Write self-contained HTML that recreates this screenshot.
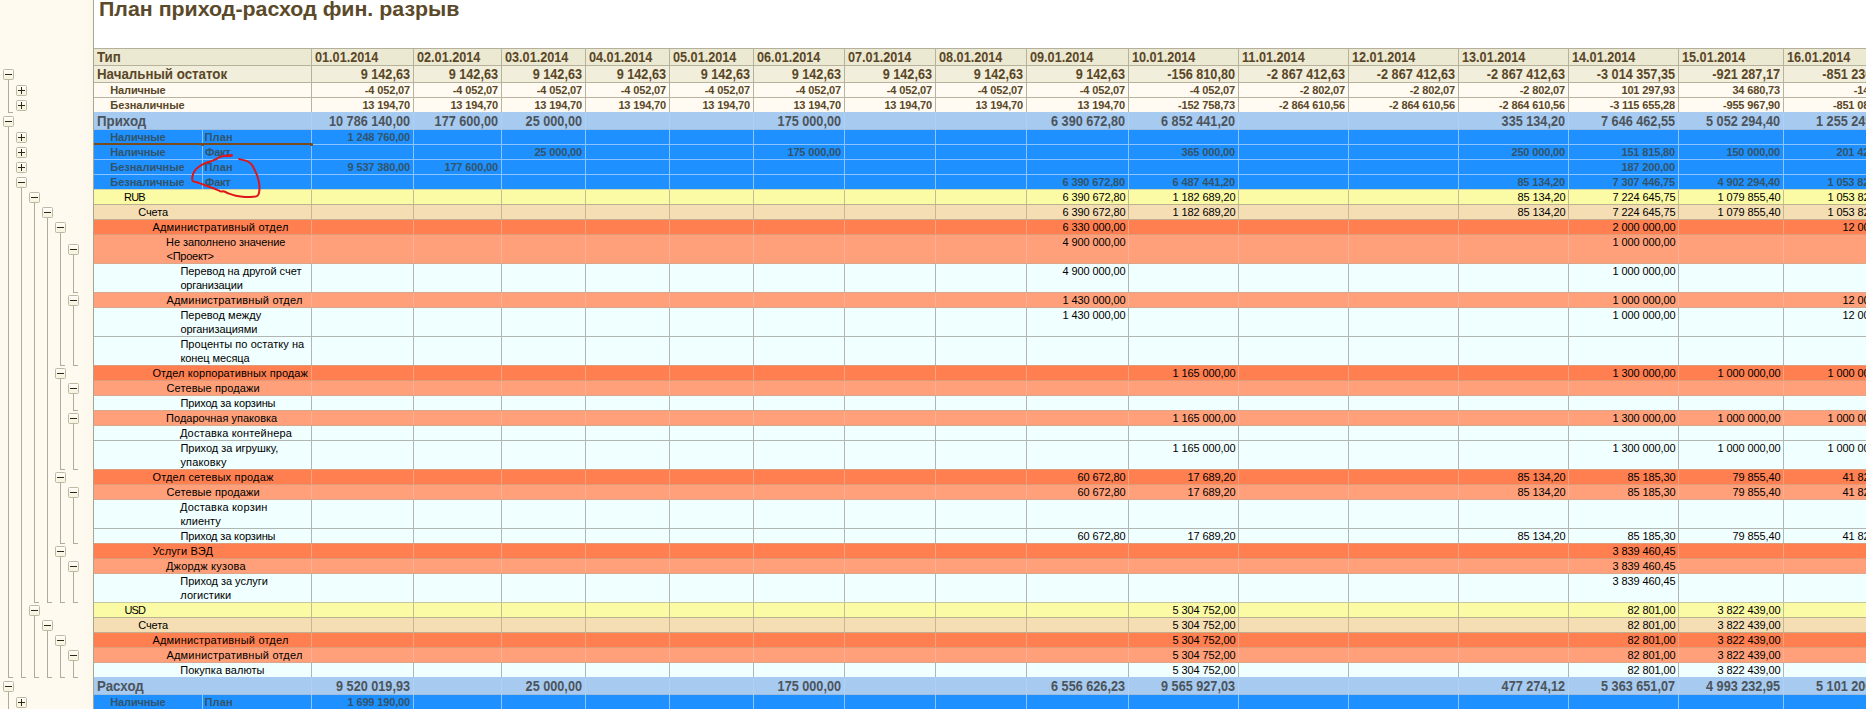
<!DOCTYPE html>
<html lang="ru"><head><meta charset="utf-8"><title>План приход-расход фин. разрыв</title>
<style>
html,body{margin:0;padding:0;}
body{width:1866px;height:709px;overflow:hidden;background:#fff;position:relative;
 font-family:"Liberation Sans",Arial,sans-serif;}
#outl{position:absolute;left:0;top:0;width:93px;height:709px;
 background:linear-gradient(90deg,#FFFAF0 0px,#FFFAF0 84px,#FBF7EA 93px);}
#vl{position:absolute;left:93px;top:0;width:1px;height:709px;background:#A6A596;}
#title{position:absolute;left:98.5px;top:-4px;font-weight:bold;font-size:20px;line-height:26px;transform:scaleX(1.068);transform-origin:0 50%;color:#5B4A2A;white-space:nowrap;}
#topl{position:absolute;left:94px;top:48px;width:1772px;height:1px;background:#B4B09C;}
.r{position:absolute;left:94px;width:1772px;overflow:hidden;}
.r i{position:absolute;top:0;bottom:0;width:1px;background:#B4B09C;}
.r u{position:absolute;left:0;right:0;bottom:0;height:1px;background:#B4B09C;}
.bl i,.bl u{background:#8CC4FF;}
.k-head i{background:#B6B29C;}.k-head u{background:#B6B29C;}
.k-total i{background:#B6B29C;}.k-total u{background:#B6B29C;}
.k-sub i{background:#B8B4A0;}.k-sub u{background:#B8B4A0;}
.k-grp i{background:#9FBEDF;}.k-grp u{background:#9FBEDF;}
.k-blue i{background:#8CC4FF;}.k-blue u{background:#8CC4FF;}
.k-yel i{background:#C2BE98;}.k-yel u{background:#B8B490;}
.k-wheat i{background:#C6B696;}.k-wheat u{background:#C2AE90;}
.k-coral i{background:#F2A484;}.k-coral u{background:#DE9C7A;}
.k-salm i{background:#F6B296;}.k-salm u{background:#DCA68A;}
.k-leaf i{background:#B2B6B0;}.k-leaf u{background:#B2B6B0;}

.c{position:absolute;top:0;white-space:nowrap;}
.v{text-align:right;}
.b12{font-weight:bold;font-size:14px;line-height:16px;color:#5A4727;}
.b12 .v{transform:scaleX(0.905);transform-origin:100% 50%;}
.b12.hd .d{transform:scaleX(0.905);transform-origin:0 50%;}
.b12 .l{transform:scaleX(0.95);transform-origin:0 50%;letter-spacing:0 !important;}
.b12.hd .l{letter-spacing:0;}
.b12.g{color:#4C545C;}
.b11{font-weight:bold;font-size:11px;line-height:14px;color:#5A4727;}
.b11 .v{letter-spacing:-0.15px;}
.b11.bl{color:#32546A;}
.n{font-size:11px;line-height:14px;color:#000;}
.n .c{line-height:14px;}
.n .v{letter-spacing:-0.12px;margin-left:0.4px;}
.bx{position:absolute;width:9px;height:9px;border:1px solid #BDB9A5;border-radius:1.5px;
 background:linear-gradient(#FFFEF8,#F6F2DE);}
.bx b{position:absolute;left:1px;top:4px;width:7px;height:1px;background:#2E2814;}
.bx s{position:absolute;left:4px;top:1px;width:1px;height:7px;background:#2E2814;}
.ln{position:absolute;background:#B0AC9A;}
</style></head>
<body>
<div id="outl"></div><div id="vl"></div>
<div id="title">План приход-расход фин. разрыв</div>
<div id="topl"></div>
<div class="r b12 hd k-head" style="top:49px;height:17px;background:#ECE9D2"><i style="left:217px"></i><i style="left:319px"></i><i style="left:407px"></i><i style="left:491px"></i><i style="left:575px"></i><i style="left:659px"></i><i style="left:750px"></i><i style="left:841px"></i><i style="left:932px"></i><i style="left:1034px"></i><i style="left:1144px"></i><i style="left:1254px"></i><i style="left:1364px"></i><i style="left:1474px"></i><i style="left:1584px"></i><i style="left:1689px"></i><i style="left:1799px"></i><u></u><div class="c l" style="left:3.30px;letter-spacing:-0.50px">Тип</div><div class="c d" style="left:221px">01.01.2014</div><div class="c d" style="left:323px">02.01.2014</div><div class="c d" style="left:411px">03.01.2014</div><div class="c d" style="left:495px">04.01.2014</div><div class="c d" style="left:579px">05.01.2014</div><div class="c d" style="left:663px">06.01.2014</div><div class="c d" style="left:754px">07.01.2014</div><div class="c d" style="left:845px">08.01.2014</div><div class="c d" style="left:936px">09.01.2014</div><div class="c d" style="left:1038px">10.01.2014</div><div class="c d" style="left:1148px">11.01.2014</div><div class="c d" style="left:1258px">12.01.2014</div><div class="c d" style="left:1368px">13.01.2014</div><div class="c d" style="left:1478px">14.01.2014</div><div class="c d" style="left:1588px">15.01.2014</div><div class="c d" style="left:1693px">16.01.2014</div></div>
<div class="r b12 k-total" style="top:66px;height:17px;background:#F1EEDB"><i style="left:217px"></i><i style="left:319px"></i><i style="left:407px"></i><i style="left:491px"></i><i style="left:575px"></i><i style="left:659px"></i><i style="left:750px"></i><i style="left:841px"></i><i style="left:932px"></i><i style="left:1034px"></i><i style="left:1144px"></i><i style="left:1254px"></i><i style="left:1364px"></i><i style="left:1474px"></i><i style="left:1584px"></i><i style="left:1689px"></i><i style="left:1799px"></i><u></u><div class="c l" style="left:2.60px;letter-spacing:-0.43px">Начальный остаток</div><div class="c v" style="left:218px;width:98px">9 142,63</div><div class="c v" style="left:320px;width:84px">9 142,63</div><div class="c v" style="left:408px;width:80px">9 142,63</div><div class="c v" style="left:492px;width:80px">9 142,63</div><div class="c v" style="left:576px;width:80px">9 142,63</div><div class="c v" style="left:660px;width:87px">9 142,63</div><div class="c v" style="left:751px;width:87px">9 142,63</div><div class="c v" style="left:842px;width:87px">9 142,63</div><div class="c v" style="left:933px;width:98px">9 142,63</div><div class="c v" style="left:1035px;width:106px">-156 810,80</div><div class="c v" style="left:1145px;width:106px">-2 867 412,63</div><div class="c v" style="left:1255px;width:106px">-2 867 412,63</div><div class="c v" style="left:1365px;width:106px">-2 867 412,63</div><div class="c v" style="left:1475px;width:106px">-3 014 357,35</div><div class="c v" style="left:1585px;width:101px">-921 287,17</div><div class="c v" style="left:1690px;width:106px">-851 236,07</div></div>
<div class="r b11 k-sub" style="top:83px;height:15px;background:#FFFBF2"><i style="left:217px"></i><i style="left:319px"></i><i style="left:407px"></i><i style="left:491px"></i><i style="left:575px"></i><i style="left:659px"></i><i style="left:750px"></i><i style="left:841px"></i><i style="left:932px"></i><i style="left:1034px"></i><i style="left:1144px"></i><i style="left:1254px"></i><i style="left:1364px"></i><i style="left:1474px"></i><i style="left:1584px"></i><i style="left:1689px"></i><i style="left:1799px"></i><u></u><div class="c l" style="left:16.30px;letter-spacing:-0.14px">Наличные</div><div class="c v" style="left:218px;width:98px">-4 052,07</div><div class="c v" style="left:320px;width:84px">-4 052,07</div><div class="c v" style="left:408px;width:80px">-4 052,07</div><div class="c v" style="left:492px;width:80px">-4 052,07</div><div class="c v" style="left:576px;width:80px">-4 052,07</div><div class="c v" style="left:660px;width:87px">-4 052,07</div><div class="c v" style="left:751px;width:87px">-4 052,07</div><div class="c v" style="left:842px;width:87px">-4 052,07</div><div class="c v" style="left:933px;width:98px">-4 052,07</div><div class="c v" style="left:1035px;width:106px">-4 052,07</div><div class="c v" style="left:1145px;width:106px">-2 802,07</div><div class="c v" style="left:1255px;width:106px">-2 802,07</div><div class="c v" style="left:1365px;width:106px">-2 802,07</div><div class="c v" style="left:1475px;width:106px">101 297,93</div><div class="c v" style="left:1585px;width:101px">34 680,73</div><div class="c v" style="left:1690px;width:106px">-147,37</div></div>
<div class="r b11 k-sub" style="top:98px;height:15px;background:#FFFBF2"><i style="left:217px"></i><i style="left:319px"></i><i style="left:407px"></i><i style="left:491px"></i><i style="left:575px"></i><i style="left:659px"></i><i style="left:750px"></i><i style="left:841px"></i><i style="left:932px"></i><i style="left:1034px"></i><i style="left:1144px"></i><i style="left:1254px"></i><i style="left:1364px"></i><i style="left:1474px"></i><i style="left:1584px"></i><i style="left:1689px"></i><i style="left:1799px"></i><u></u><div class="c l" style="left:16.30px;letter-spacing:-0.02px">Безналичные</div><div class="c v" style="left:218px;width:98px">13 194,70</div><div class="c v" style="left:320px;width:84px">13 194,70</div><div class="c v" style="left:408px;width:80px">13 194,70</div><div class="c v" style="left:492px;width:80px">13 194,70</div><div class="c v" style="left:576px;width:80px">13 194,70</div><div class="c v" style="left:660px;width:87px">13 194,70</div><div class="c v" style="left:751px;width:87px">13 194,70</div><div class="c v" style="left:842px;width:87px">13 194,70</div><div class="c v" style="left:933px;width:98px">13 194,70</div><div class="c v" style="left:1035px;width:106px">-152 758,73</div><div class="c v" style="left:1145px;width:106px">-2 864 610,56</div><div class="c v" style="left:1255px;width:106px">-2 864 610,56</div><div class="c v" style="left:1365px;width:106px">-2 864 610,56</div><div class="c v" style="left:1475px;width:106px">-3 115 655,28</div><div class="c v" style="left:1585px;width:101px">-955 967,90</div><div class="c v" style="left:1690px;width:106px">-851 088,70</div></div>
<div class="r b12 g" style="top:113px;height:17px;background:#A6CAF0;border-top:1px solid #A6CAF0;margin-top:-1px"><u style="background:#9FBEDF"></u><i style="left:217px;background:#B1D0F2"></i><i style="left:319px;background:#B1D0F2"></i><i style="left:407px;background:#B1D0F2"></i><i style="left:491px;background:#B1D0F2"></i><i style="left:575px;background:#B1D0F2"></i><i style="left:659px;background:#B1D0F2"></i><i style="left:750px;background:#B1D0F2"></i><i style="left:841px;background:#B1D0F2"></i><i style="left:932px;background:#B1D0F2"></i><i style="left:1034px;background:#B1D0F2"></i><i style="left:1144px;background:#B1D0F2"></i><i style="left:1254px;background:#B1D0F2"></i><i style="left:1364px;background:#B1D0F2"></i><i style="left:1474px;background:#B1D0F2"></i><i style="left:1584px;background:#B1D0F2"></i><i style="left:1689px;background:#B1D0F2"></i><i style="left:1799px;background:#B1D0F2"></i><div class="c l" style="left:2.60px;letter-spacing:-0.60px">Приход</div><div class="c v" style="left:218px;width:98px">10 786 140,00</div><div class="c v" style="left:320px;width:84px">177 600,00</div><div class="c v" style="left:408px;width:80px">25 000,00</div><div class="c v" style="left:660px;width:87px">175 000,00</div><div class="c v" style="left:933px;width:98px">6 390 672,80</div><div class="c v" style="left:1035px;width:106px">6 852 441,20</div><div class="c v" style="left:1365px;width:106px">335 134,20</div><div class="c v" style="left:1475px;width:106px">7 646 462,55</div><div class="c v" style="left:1585px;width:101px">5 052 294,40</div><div class="c v" style="left:1690px;width:106px">1 255 249,60</div></div>
<div class="r b11 bl k-blue" style="top:130px;height:15px;background:#1E90FF"><i style="left:217px"></i><i style="left:319px"></i><i style="left:407px"></i><i style="left:491px"></i><i style="left:575px"></i><i style="left:659px"></i><i style="left:750px"></i><i style="left:841px"></i><i style="left:932px"></i><i style="left:1034px"></i><i style="left:1144px"></i><i style="left:1254px"></i><i style="left:1364px"></i><i style="left:1474px"></i><i style="left:1584px"></i><i style="left:1689px"></i><i style="left:1799px"></i><i style="left:108px"></i><u></u><div class="c l" style="left:16.30px;letter-spacing:-0.14px">Наличные</div><div class="c l" style="left:110.50px;letter-spacing:0.20px">План</div><div class="c v" style="left:218px;width:98px">1 248 760,00</div></div>
<div class="r b11 bl k-blue" style="top:145px;height:15px;background:#1E90FF"><i style="left:217px"></i><i style="left:319px"></i><i style="left:407px"></i><i style="left:491px"></i><i style="left:575px"></i><i style="left:659px"></i><i style="left:750px"></i><i style="left:841px"></i><i style="left:932px"></i><i style="left:1034px"></i><i style="left:1144px"></i><i style="left:1254px"></i><i style="left:1364px"></i><i style="left:1474px"></i><i style="left:1584px"></i><i style="left:1689px"></i><i style="left:1799px"></i><i style="left:108px"></i><u></u><div class="c l" style="left:16.30px;letter-spacing:-0.14px">Наличные</div><div class="c l" style="left:111.10px;letter-spacing:-0.30px">Факт</div><div class="c v" style="left:408px;width:80px">25 000,00</div><div class="c v" style="left:660px;width:87px">175 000,00</div><div class="c v" style="left:1035px;width:106px">365 000,00</div><div class="c v" style="left:1365px;width:106px">250 000,00</div><div class="c v" style="left:1475px;width:106px">151 815,80</div><div class="c v" style="left:1585px;width:101px">150 000,00</div><div class="c v" style="left:1690px;width:106px">201 424,20</div></div>
<div class="r b11 bl k-blue" style="top:160px;height:15px;background:#1E90FF"><i style="left:217px"></i><i style="left:319px"></i><i style="left:407px"></i><i style="left:491px"></i><i style="left:575px"></i><i style="left:659px"></i><i style="left:750px"></i><i style="left:841px"></i><i style="left:932px"></i><i style="left:1034px"></i><i style="left:1144px"></i><i style="left:1254px"></i><i style="left:1364px"></i><i style="left:1474px"></i><i style="left:1584px"></i><i style="left:1689px"></i><i style="left:1799px"></i><i style="left:108px"></i><u></u><div class="c l" style="left:16.30px;letter-spacing:-0.02px">Безналичные</div><div class="c l" style="left:110.50px;letter-spacing:0.20px">План</div><div class="c v" style="left:218px;width:98px">9 537 380,00</div><div class="c v" style="left:320px;width:84px">177 600,00</div><div class="c v" style="left:1475px;width:106px">187 200,00</div></div>
<div class="r b11 bl k-blue" style="top:175px;height:15px;background:#1E90FF"><i style="left:217px"></i><i style="left:319px"></i><i style="left:407px"></i><i style="left:491px"></i><i style="left:575px"></i><i style="left:659px"></i><i style="left:750px"></i><i style="left:841px"></i><i style="left:932px"></i><i style="left:1034px"></i><i style="left:1144px"></i><i style="left:1254px"></i><i style="left:1364px"></i><i style="left:1474px"></i><i style="left:1584px"></i><i style="left:1689px"></i><i style="left:1799px"></i><i style="left:108px"></i><u style="background:#D2D6AC"></u><div class="c l" style="left:16.30px;letter-spacing:-0.02px">Безналичные</div><div class="c l" style="left:111.10px;letter-spacing:-0.30px">Факт</div><div class="c v" style="left:933px;width:98px">6 390 672,80</div><div class="c v" style="left:1035px;width:106px">6 487 441,20</div><div class="c v" style="left:1365px;width:106px">85 134,20</div><div class="c v" style="left:1475px;width:106px">7 307 446,75</div><div class="c v" style="left:1585px;width:101px">4 902 294,40</div><div class="c v" style="left:1690px;width:106px">1 053 825,40</div></div>
<div class="r n k-yel" style="top:190px;height:15px;background:#FCFBA5"><i style="left:217px"></i><i style="left:319px"></i><i style="left:407px"></i><i style="left:491px"></i><i style="left:575px"></i><i style="left:659px"></i><i style="left:750px"></i><i style="left:841px"></i><i style="left:932px"></i><i style="left:1034px"></i><i style="left:1144px"></i><i style="left:1254px"></i><i style="left:1364px"></i><i style="left:1474px"></i><i style="left:1584px"></i><i style="left:1689px"></i><i style="left:1799px"></i><u></u><div class="c l" style="left:30px;letter-spacing:-0.80px">RUB</div><div class="c v" style="left:933px;width:98px">6 390 672,80</div><div class="c v" style="left:1035px;width:106px">1 182 689,20</div><div class="c v" style="left:1365px;width:106px">85 134,20</div><div class="c v" style="left:1475px;width:106px">7 224 645,75</div><div class="c v" style="left:1585px;width:101px">1 079 855,40</div><div class="c v" style="left:1690px;width:106px">1 053 825,40</div></div>
<div class="r n k-wheat" style="top:205px;height:15px;background:#F5DEB3"><i style="left:217px"></i><i style="left:319px"></i><i style="left:407px"></i><i style="left:491px"></i><i style="left:575px"></i><i style="left:659px"></i><i style="left:750px"></i><i style="left:841px"></i><i style="left:932px"></i><i style="left:1034px"></i><i style="left:1144px"></i><i style="left:1254px"></i><i style="left:1364px"></i><i style="left:1474px"></i><i style="left:1584px"></i><i style="left:1689px"></i><i style="left:1799px"></i><u></u><div class="c l" style="left:44.30px;letter-spacing:-0.15px">Счета</div><div class="c v" style="left:933px;width:98px">6 390 672,80</div><div class="c v" style="left:1035px;width:106px">1 182 689,20</div><div class="c v" style="left:1365px;width:106px">85 134,20</div><div class="c v" style="left:1475px;width:106px">7 224 645,75</div><div class="c v" style="left:1585px;width:101px">1 079 855,40</div><div class="c v" style="left:1690px;width:106px">1 053 825,40</div></div>
<div class="r n k-coral" style="top:220px;height:15px;background:#FF7F50"><i style="left:217px"></i><i style="left:319px"></i><i style="left:407px"></i><i style="left:491px"></i><i style="left:575px"></i><i style="left:659px"></i><i style="left:750px"></i><i style="left:841px"></i><i style="left:932px"></i><i style="left:1034px"></i><i style="left:1144px"></i><i style="left:1254px"></i><i style="left:1364px"></i><i style="left:1474px"></i><i style="left:1584px"></i><i style="left:1689px"></i><i style="left:1799px"></i><u></u><div class="c l" style="left:58.40px;letter-spacing:0.21px">Административный отдел</div><div class="c v" style="left:933px;width:98px">6 330 000,00</div><div class="c v" style="left:1475px;width:106px">2 000 000,00</div><div class="c v" style="left:1690px;width:106px">12 000,00</div></div>
<div class="r n k-salm" style="top:235px;height:29px;background:#FFA07A"><i style="left:217px"></i><i style="left:319px"></i><i style="left:407px"></i><i style="left:491px"></i><i style="left:575px"></i><i style="left:659px"></i><i style="left:750px"></i><i style="left:841px"></i><i style="left:932px"></i><i style="left:1034px"></i><i style="left:1144px"></i><i style="left:1254px"></i><i style="left:1364px"></i><i style="left:1474px"></i><i style="left:1584px"></i><i style="left:1689px"></i><i style="left:1799px"></i><u></u><div class="c l" style="left:72.10px;letter-spacing:-0.09px">Не заполнено значение</div><div class="c l" style="left:72.50px;top:14px;letter-spacing:-0.24px">&lt;Проект&gt;</div><div class="c v" style="left:933px;width:98px">4 900 000,00</div><div class="c v" style="left:1475px;width:106px">1 000 000,00</div></div>
<div class="r n k-leaf" style="top:264px;height:29px;background:#F0FFFF"><i style="left:217px"></i><i style="left:319px"></i><i style="left:407px"></i><i style="left:491px"></i><i style="left:575px"></i><i style="left:659px"></i><i style="left:750px"></i><i style="left:841px"></i><i style="left:932px"></i><i style="left:1034px"></i><i style="left:1144px"></i><i style="left:1254px"></i><i style="left:1364px"></i><i style="left:1474px"></i><i style="left:1584px"></i><i style="left:1689px"></i><i style="left:1799px"></i><u style="background:#DCA68A"></u><div class="c l" style="left:86.40px;letter-spacing:-0.02px">Перевод на другой счет</div><div class="c l" style="left:86.40px;top:14px;letter-spacing:-0.17px">организации</div><div class="c v" style="left:933px;width:98px">4 900 000,00</div><div class="c v" style="left:1475px;width:106px">1 000 000,00</div></div>
<div class="r n k-salm" style="top:293px;height:15px;background:#FFA07A"><i style="left:217px"></i><i style="left:319px"></i><i style="left:407px"></i><i style="left:491px"></i><i style="left:575px"></i><i style="left:659px"></i><i style="left:750px"></i><i style="left:841px"></i><i style="left:932px"></i><i style="left:1034px"></i><i style="left:1144px"></i><i style="left:1254px"></i><i style="left:1364px"></i><i style="left:1474px"></i><i style="left:1584px"></i><i style="left:1689px"></i><i style="left:1799px"></i><u></u><div class="c l" style="left:72.40px;letter-spacing:0.21px">Административный отдел</div><div class="c v" style="left:933px;width:98px">1 430 000,00</div><div class="c v" style="left:1475px;width:106px">1 000 000,00</div><div class="c v" style="left:1690px;width:106px">12 000,00</div></div>
<div class="r n k-leaf" style="top:308px;height:29px;background:#F0FFFF"><i style="left:217px"></i><i style="left:319px"></i><i style="left:407px"></i><i style="left:491px"></i><i style="left:575px"></i><i style="left:659px"></i><i style="left:750px"></i><i style="left:841px"></i><i style="left:932px"></i><i style="left:1034px"></i><i style="left:1144px"></i><i style="left:1254px"></i><i style="left:1364px"></i><i style="left:1474px"></i><i style="left:1584px"></i><i style="left:1689px"></i><i style="left:1799px"></i><u></u><div class="c l" style="left:86.40px;letter-spacing:0.05px">Перевод между</div><div class="c l" style="left:86.40px;top:14px;letter-spacing:-0.05px">организациями</div><div class="c v" style="left:933px;width:98px">1 430 000,00</div><div class="c v" style="left:1475px;width:106px">1 000 000,00</div><div class="c v" style="left:1690px;width:106px">12 000,00</div></div>
<div class="r n k-leaf" style="top:337px;height:29px;background:#F0FFFF"><i style="left:217px"></i><i style="left:319px"></i><i style="left:407px"></i><i style="left:491px"></i><i style="left:575px"></i><i style="left:659px"></i><i style="left:750px"></i><i style="left:841px"></i><i style="left:932px"></i><i style="left:1034px"></i><i style="left:1144px"></i><i style="left:1254px"></i><i style="left:1364px"></i><i style="left:1474px"></i><i style="left:1584px"></i><i style="left:1689px"></i><i style="left:1799px"></i><u style="background:#DE9C7A"></u><div class="c l" style="left:86.40px;letter-spacing:0.05px">Проценты по остатку на</div><div class="c l" style="left:86.40px;top:14px;letter-spacing:-0.08px">конец месяца</div></div>
<div class="r n k-coral" style="top:366px;height:15px;background:#FF7F50"><i style="left:217px"></i><i style="left:319px"></i><i style="left:407px"></i><i style="left:491px"></i><i style="left:575px"></i><i style="left:659px"></i><i style="left:750px"></i><i style="left:841px"></i><i style="left:932px"></i><i style="left:1034px"></i><i style="left:1144px"></i><i style="left:1254px"></i><i style="left:1364px"></i><i style="left:1474px"></i><i style="left:1584px"></i><i style="left:1689px"></i><i style="left:1799px"></i><u></u><div class="c l" style="left:58.40px;letter-spacing:0.08px">Отдел корпоративных продаж</div><div class="c v" style="left:1035px;width:106px">1 165 000,00</div><div class="c v" style="left:1475px;width:106px">1 300 000,00</div><div class="c v" style="left:1585px;width:101px">1 000 000,00</div><div class="c v" style="left:1690px;width:106px">1 000 000,00</div></div>
<div class="r n k-salm" style="top:381px;height:15px;background:#FFA07A"><i style="left:217px"></i><i style="left:319px"></i><i style="left:407px"></i><i style="left:491px"></i><i style="left:575px"></i><i style="left:659px"></i><i style="left:750px"></i><i style="left:841px"></i><i style="left:932px"></i><i style="left:1034px"></i><i style="left:1144px"></i><i style="left:1254px"></i><i style="left:1364px"></i><i style="left:1474px"></i><i style="left:1584px"></i><i style="left:1689px"></i><i style="left:1799px"></i><u></u><div class="c l" style="left:72.50px;letter-spacing:0.10px">Сетевые продажи</div></div>
<div class="r n k-leaf" style="top:396px;height:15px;background:#F0FFFF"><i style="left:217px"></i><i style="left:319px"></i><i style="left:407px"></i><i style="left:491px"></i><i style="left:575px"></i><i style="left:659px"></i><i style="left:750px"></i><i style="left:841px"></i><i style="left:932px"></i><i style="left:1034px"></i><i style="left:1144px"></i><i style="left:1254px"></i><i style="left:1364px"></i><i style="left:1474px"></i><i style="left:1584px"></i><i style="left:1689px"></i><i style="left:1799px"></i><u style="background:#DCA68A"></u><div class="c l" style="left:86.40px;letter-spacing:-0.14px">Приход за корзины</div></div>
<div class="r n k-salm" style="top:411px;height:15px;background:#FFA07A"><i style="left:217px"></i><i style="left:319px"></i><i style="left:407px"></i><i style="left:491px"></i><i style="left:575px"></i><i style="left:659px"></i><i style="left:750px"></i><i style="left:841px"></i><i style="left:932px"></i><i style="left:1034px"></i><i style="left:1144px"></i><i style="left:1254px"></i><i style="left:1364px"></i><i style="left:1474px"></i><i style="left:1584px"></i><i style="left:1689px"></i><i style="left:1799px"></i><u></u><div class="c l" style="left:72.10px;letter-spacing:0.01px">Подарочная упаковка</div><div class="c v" style="left:1035px;width:106px">1 165 000,00</div><div class="c v" style="left:1475px;width:106px">1 300 000,00</div><div class="c v" style="left:1585px;width:101px">1 000 000,00</div><div class="c v" style="left:1690px;width:106px">1 000 000,00</div></div>
<div class="r n k-leaf" style="top:426px;height:15px;background:#F0FFFF"><i style="left:217px"></i><i style="left:319px"></i><i style="left:407px"></i><i style="left:491px"></i><i style="left:575px"></i><i style="left:659px"></i><i style="left:750px"></i><i style="left:841px"></i><i style="left:932px"></i><i style="left:1034px"></i><i style="left:1144px"></i><i style="left:1254px"></i><i style="left:1364px"></i><i style="left:1474px"></i><i style="left:1584px"></i><i style="left:1689px"></i><i style="left:1799px"></i><u></u><div class="c l" style="left:85.90px;letter-spacing:0.16px">Доставка контейнера</div></div>
<div class="r n k-leaf" style="top:441px;height:29px;background:#F0FFFF"><i style="left:217px"></i><i style="left:319px"></i><i style="left:407px"></i><i style="left:491px"></i><i style="left:575px"></i><i style="left:659px"></i><i style="left:750px"></i><i style="left:841px"></i><i style="left:932px"></i><i style="left:1034px"></i><i style="left:1144px"></i><i style="left:1254px"></i><i style="left:1364px"></i><i style="left:1474px"></i><i style="left:1584px"></i><i style="left:1689px"></i><i style="left:1799px"></i><u style="background:#DE9C7A"></u><div class="c l" style="left:86.40px;letter-spacing:-0.01px">Приход за игрушку,</div><div class="c l" style="left:86.40px;top:14px;letter-spacing:0.16px">упаковку</div><div class="c v" style="left:1035px;width:106px">1 165 000,00</div><div class="c v" style="left:1475px;width:106px">1 300 000,00</div><div class="c v" style="left:1585px;width:101px">1 000 000,00</div><div class="c v" style="left:1690px;width:106px">1 000 000,00</div></div>
<div class="r n k-coral" style="top:470px;height:15px;background:#FF7F50"><i style="left:217px"></i><i style="left:319px"></i><i style="left:407px"></i><i style="left:491px"></i><i style="left:575px"></i><i style="left:659px"></i><i style="left:750px"></i><i style="left:841px"></i><i style="left:932px"></i><i style="left:1034px"></i><i style="left:1144px"></i><i style="left:1254px"></i><i style="left:1364px"></i><i style="left:1474px"></i><i style="left:1584px"></i><i style="left:1689px"></i><i style="left:1799px"></i><u></u><div class="c l" style="left:58.40px;letter-spacing:0.19px">Отдел сетевых продаж</div><div class="c v" style="left:933px;width:98px">60 672,80</div><div class="c v" style="left:1035px;width:106px">17 689,20</div><div class="c v" style="left:1365px;width:106px">85 134,20</div><div class="c v" style="left:1475px;width:106px">85 185,30</div><div class="c v" style="left:1585px;width:101px">79 855,40</div><div class="c v" style="left:1690px;width:106px">41 825,40</div></div>
<div class="r n k-salm" style="top:485px;height:15px;background:#FFA07A"><i style="left:217px"></i><i style="left:319px"></i><i style="left:407px"></i><i style="left:491px"></i><i style="left:575px"></i><i style="left:659px"></i><i style="left:750px"></i><i style="left:841px"></i><i style="left:932px"></i><i style="left:1034px"></i><i style="left:1144px"></i><i style="left:1254px"></i><i style="left:1364px"></i><i style="left:1474px"></i><i style="left:1584px"></i><i style="left:1689px"></i><i style="left:1799px"></i><u></u><div class="c l" style="left:72.50px;letter-spacing:0.10px">Сетевые продажи</div><div class="c v" style="left:933px;width:98px">60 672,80</div><div class="c v" style="left:1035px;width:106px">17 689,20</div><div class="c v" style="left:1365px;width:106px">85 134,20</div><div class="c v" style="left:1475px;width:106px">85 185,30</div><div class="c v" style="left:1585px;width:101px">79 855,40</div><div class="c v" style="left:1690px;width:106px">41 825,40</div></div>
<div class="r n k-leaf" style="top:500px;height:29px;background:#F0FFFF"><i style="left:217px"></i><i style="left:319px"></i><i style="left:407px"></i><i style="left:491px"></i><i style="left:575px"></i><i style="left:659px"></i><i style="left:750px"></i><i style="left:841px"></i><i style="left:932px"></i><i style="left:1034px"></i><i style="left:1144px"></i><i style="left:1254px"></i><i style="left:1364px"></i><i style="left:1474px"></i><i style="left:1584px"></i><i style="left:1689px"></i><i style="left:1799px"></i><u></u><div class="c l" style="left:85.90px;letter-spacing:0.20px">Доставка корзин</div><div class="c l" style="left:86.40px;top:14px">клиенту</div></div>
<div class="r n k-leaf" style="top:529px;height:15px;background:#F0FFFF"><i style="left:217px"></i><i style="left:319px"></i><i style="left:407px"></i><i style="left:491px"></i><i style="left:575px"></i><i style="left:659px"></i><i style="left:750px"></i><i style="left:841px"></i><i style="left:932px"></i><i style="left:1034px"></i><i style="left:1144px"></i><i style="left:1254px"></i><i style="left:1364px"></i><i style="left:1474px"></i><i style="left:1584px"></i><i style="left:1689px"></i><i style="left:1799px"></i><u style="background:#DE9C7A"></u><div class="c l" style="left:86.40px;letter-spacing:-0.14px">Приход за корзины</div><div class="c v" style="left:933px;width:98px">60 672,80</div><div class="c v" style="left:1035px;width:106px">17 689,20</div><div class="c v" style="left:1365px;width:106px">85 134,20</div><div class="c v" style="left:1475px;width:106px">85 185,30</div><div class="c v" style="left:1585px;width:101px">79 855,40</div><div class="c v" style="left:1690px;width:106px">41 825,40</div></div>
<div class="r n k-coral" style="top:544px;height:15px;background:#FF7F50"><i style="left:217px"></i><i style="left:319px"></i><i style="left:407px"></i><i style="left:491px"></i><i style="left:575px"></i><i style="left:659px"></i><i style="left:750px"></i><i style="left:841px"></i><i style="left:932px"></i><i style="left:1034px"></i><i style="left:1144px"></i><i style="left:1254px"></i><i style="left:1364px"></i><i style="left:1474px"></i><i style="left:1584px"></i><i style="left:1689px"></i><i style="left:1799px"></i><u></u><div class="c l" style="left:58.70px;letter-spacing:0.12px">Услуги ВЭД</div><div class="c v" style="left:1475px;width:106px">3 839 460,45</div></div>
<div class="r n k-salm" style="top:559px;height:15px;background:#FFA07A"><i style="left:217px"></i><i style="left:319px"></i><i style="left:407px"></i><i style="left:491px"></i><i style="left:575px"></i><i style="left:659px"></i><i style="left:750px"></i><i style="left:841px"></i><i style="left:932px"></i><i style="left:1034px"></i><i style="left:1144px"></i><i style="left:1254px"></i><i style="left:1364px"></i><i style="left:1474px"></i><i style="left:1584px"></i><i style="left:1689px"></i><i style="left:1799px"></i><u></u><div class="c l" style="left:71.90px;letter-spacing:0.23px">Джордж кузова</div><div class="c v" style="left:1475px;width:106px">3 839 460,45</div></div>
<div class="r n k-leaf" style="top:574px;height:29px;background:#F0FFFF"><i style="left:217px"></i><i style="left:319px"></i><i style="left:407px"></i><i style="left:491px"></i><i style="left:575px"></i><i style="left:659px"></i><i style="left:750px"></i><i style="left:841px"></i><i style="left:932px"></i><i style="left:1034px"></i><i style="left:1144px"></i><i style="left:1254px"></i><i style="left:1364px"></i><i style="left:1474px"></i><i style="left:1584px"></i><i style="left:1689px"></i><i style="left:1799px"></i><u style="background:#C6C6A2"></u><div class="c l" style="left:86.30px;letter-spacing:-0.03px">Приход за услуги</div><div class="c l" style="left:86.30px;top:14px;letter-spacing:0.04px">логистики</div><div class="c v" style="left:1475px;width:106px">3 839 460,45</div></div>
<div class="r n k-yel" style="top:603px;height:15px;background:#FCFBA5"><i style="left:217px"></i><i style="left:319px"></i><i style="left:407px"></i><i style="left:491px"></i><i style="left:575px"></i><i style="left:659px"></i><i style="left:750px"></i><i style="left:841px"></i><i style="left:932px"></i><i style="left:1034px"></i><i style="left:1144px"></i><i style="left:1254px"></i><i style="left:1364px"></i><i style="left:1474px"></i><i style="left:1584px"></i><i style="left:1689px"></i><i style="left:1799px"></i><u></u><div class="c l" style="left:30.40px;letter-spacing:-0.80px">USD</div><div class="c v" style="left:1035px;width:106px">5 304 752,00</div><div class="c v" style="left:1475px;width:106px">82 801,00</div><div class="c v" style="left:1585px;width:101px">3 822 439,00</div></div>
<div class="r n k-wheat" style="top:618px;height:15px;background:#F5DEB3"><i style="left:217px"></i><i style="left:319px"></i><i style="left:407px"></i><i style="left:491px"></i><i style="left:575px"></i><i style="left:659px"></i><i style="left:750px"></i><i style="left:841px"></i><i style="left:932px"></i><i style="left:1034px"></i><i style="left:1144px"></i><i style="left:1254px"></i><i style="left:1364px"></i><i style="left:1474px"></i><i style="left:1584px"></i><i style="left:1689px"></i><i style="left:1799px"></i><u></u><div class="c l" style="left:44.30px;letter-spacing:-0.15px">Счета</div><div class="c v" style="left:1035px;width:106px">5 304 752,00</div><div class="c v" style="left:1475px;width:106px">82 801,00</div><div class="c v" style="left:1585px;width:101px">3 822 439,00</div></div>
<div class="r n k-coral" style="top:633px;height:15px;background:#FF7F50"><i style="left:217px"></i><i style="left:319px"></i><i style="left:407px"></i><i style="left:491px"></i><i style="left:575px"></i><i style="left:659px"></i><i style="left:750px"></i><i style="left:841px"></i><i style="left:932px"></i><i style="left:1034px"></i><i style="left:1144px"></i><i style="left:1254px"></i><i style="left:1364px"></i><i style="left:1474px"></i><i style="left:1584px"></i><i style="left:1689px"></i><i style="left:1799px"></i><u></u><div class="c l" style="left:58.40px;letter-spacing:0.21px">Административный отдел</div><div class="c v" style="left:1035px;width:106px">5 304 752,00</div><div class="c v" style="left:1475px;width:106px">82 801,00</div><div class="c v" style="left:1585px;width:101px">3 822 439,00</div></div>
<div class="r n k-salm" style="top:648px;height:15px;background:#FFA07A"><i style="left:217px"></i><i style="left:319px"></i><i style="left:407px"></i><i style="left:491px"></i><i style="left:575px"></i><i style="left:659px"></i><i style="left:750px"></i><i style="left:841px"></i><i style="left:932px"></i><i style="left:1034px"></i><i style="left:1144px"></i><i style="left:1254px"></i><i style="left:1364px"></i><i style="left:1474px"></i><i style="left:1584px"></i><i style="left:1689px"></i><i style="left:1799px"></i><u></u><div class="c l" style="left:72.40px;letter-spacing:0.21px">Административный отдел</div><div class="c v" style="left:1035px;width:106px">5 304 752,00</div><div class="c v" style="left:1475px;width:106px">82 801,00</div><div class="c v" style="left:1585px;width:101px">3 822 439,00</div></div>
<div class="r n k-leaf" style="top:663px;height:15px;background:#F0FFFF"><i style="left:217px"></i><i style="left:319px"></i><i style="left:407px"></i><i style="left:491px"></i><i style="left:575px"></i><i style="left:659px"></i><i style="left:750px"></i><i style="left:841px"></i><i style="left:932px"></i><i style="left:1034px"></i><i style="left:1144px"></i><i style="left:1254px"></i><i style="left:1364px"></i><i style="left:1474px"></i><i style="left:1584px"></i><i style="left:1689px"></i><i style="left:1799px"></i><u></u><div class="c l" style="left:86.30px;letter-spacing:0.02px">Покупка валюты</div><div class="c v" style="left:1035px;width:106px">5 304 752,00</div><div class="c v" style="left:1475px;width:106px">82 801,00</div><div class="c v" style="left:1585px;width:101px">3 822 439,00</div></div>
<div class="r b12 g" style="top:678px;height:17px;background:#A6CAF0;border-top:1px solid #A6CAF0;margin-top:-1px"><u style="background:#9FBEDF"></u><i style="left:217px;background:#B1D0F2"></i><i style="left:319px;background:#B1D0F2"></i><i style="left:407px;background:#B1D0F2"></i><i style="left:491px;background:#B1D0F2"></i><i style="left:575px;background:#B1D0F2"></i><i style="left:659px;background:#B1D0F2"></i><i style="left:750px;background:#B1D0F2"></i><i style="left:841px;background:#B1D0F2"></i><i style="left:932px;background:#B1D0F2"></i><i style="left:1034px;background:#B1D0F2"></i><i style="left:1144px;background:#B1D0F2"></i><i style="left:1254px;background:#B1D0F2"></i><i style="left:1364px;background:#B1D0F2"></i><i style="left:1474px;background:#B1D0F2"></i><i style="left:1584px;background:#B1D0F2"></i><i style="left:1689px;background:#B1D0F2"></i><i style="left:1799px;background:#B1D0F2"></i><div class="c l" style="left:2.90px;letter-spacing:-0.24px">Расход</div><div class="c v" style="left:218px;width:98px">9 520 019,93</div><div class="c v" style="left:408px;width:80px">25 000,00</div><div class="c v" style="left:660px;width:87px">175 000,00</div><div class="c v" style="left:933px;width:98px">6 556 626,23</div><div class="c v" style="left:1035px;width:106px">9 565 927,03</div><div class="c v" style="left:1365px;width:106px">477 274,12</div><div class="c v" style="left:1475px;width:106px">5 363 651,07</div><div class="c v" style="left:1585px;width:101px">4 993 232,95</div><div class="c v" style="left:1690px;width:106px">5 101 206,35</div></div>
<div class="r b11 bl k-blue" style="top:695px;height:15px;background:#1E90FF"><i style="left:217px"></i><i style="left:319px"></i><i style="left:407px"></i><i style="left:491px"></i><i style="left:575px"></i><i style="left:659px"></i><i style="left:750px"></i><i style="left:841px"></i><i style="left:932px"></i><i style="left:1034px"></i><i style="left:1144px"></i><i style="left:1254px"></i><i style="left:1364px"></i><i style="left:1474px"></i><i style="left:1584px"></i><i style="left:1689px"></i><i style="left:1799px"></i><i style="left:108px"></i><u></u><div class="c l" style="left:16.30px;letter-spacing:-0.14px">Наличные</div><div class="c l" style="left:110.50px;letter-spacing:0.20px">План</div><div class="c v" style="left:218px;width:98px">1 699 190,00</div></div>
<div class="bx" style="left:3px;top:69px"><b></b></div><div class="ln" style="left:8px;top:80px;width:1px;height:33px"></div><div class="ln" style="left:8px;top:112px;width:5px;height:1px"></div><div class="bx" style="left:16px;top:85px"><b></b><s></s></div><div class="bx" style="left:16px;top:100px"><b></b><s></s></div><div class="bx" style="left:3px;top:116px"><b></b></div><div class="ln" style="left:8px;top:127px;width:1px;height:551px"></div><div class="ln" style="left:8px;top:677px;width:5px;height:1px"></div><div class="bx" style="left:16px;top:132px"><b></b><s></s></div><div class="bx" style="left:16px;top:147px"><b></b><s></s></div><div class="bx" style="left:16px;top:162px"><b></b><s></s></div><div class="bx" style="left:16px;top:177px"><b></b></div><div class="ln" style="left:21px;top:188px;width:1px;height:490px"></div><div class="ln" style="left:21px;top:677px;width:5px;height:1px"></div><div class="bx" style="left:29px;top:192px"><b></b></div><div class="ln" style="left:34px;top:203px;width:1px;height:400px"></div><div class="ln" style="left:34px;top:602px;width:5px;height:1px"></div><div class="bx" style="left:42px;top:207px"><b></b></div><div class="ln" style="left:47px;top:218px;width:1px;height:385px"></div><div class="ln" style="left:47px;top:602px;width:5px;height:1px"></div><div class="bx" style="left:55px;top:222px"><b></b></div><div class="ln" style="left:60px;top:233px;width:1px;height:133px"></div><div class="ln" style="left:60px;top:365px;width:5px;height:1px"></div><div class="bx" style="left:68px;top:244px"><b></b></div><div class="ln" style="left:73px;top:255px;width:1px;height:38px"></div><div class="ln" style="left:73px;top:292px;width:5px;height:1px"></div><div class="bx" style="left:68px;top:295px"><b></b></div><div class="ln" style="left:73px;top:306px;width:1px;height:60px"></div><div class="ln" style="left:73px;top:365px;width:5px;height:1px"></div><div class="bx" style="left:55px;top:368px"><b></b></div><div class="ln" style="left:60px;top:379px;width:1px;height:91px"></div><div class="ln" style="left:60px;top:469px;width:5px;height:1px"></div><div class="bx" style="left:68px;top:383px"><b></b></div><div class="ln" style="left:73px;top:394px;width:1px;height:17px"></div><div class="ln" style="left:73px;top:410px;width:5px;height:1px"></div><div class="bx" style="left:68px;top:413px"><b></b></div><div class="ln" style="left:73px;top:424px;width:1px;height:46px"></div><div class="ln" style="left:73px;top:469px;width:5px;height:1px"></div><div class="bx" style="left:55px;top:472px"><b></b></div><div class="ln" style="left:60px;top:483px;width:1px;height:61px"></div><div class="ln" style="left:60px;top:543px;width:5px;height:1px"></div><div class="bx" style="left:68px;top:487px"><b></b></div><div class="ln" style="left:73px;top:498px;width:1px;height:46px"></div><div class="ln" style="left:73px;top:543px;width:5px;height:1px"></div><div class="bx" style="left:55px;top:546px"><b></b></div><div class="ln" style="left:60px;top:557px;width:1px;height:46px"></div><div class="ln" style="left:60px;top:602px;width:5px;height:1px"></div><div class="bx" style="left:68px;top:561px"><b></b></div><div class="ln" style="left:73px;top:572px;width:1px;height:31px"></div><div class="ln" style="left:73px;top:602px;width:5px;height:1px"></div><div class="bx" style="left:29px;top:605px"><b></b></div><div class="ln" style="left:34px;top:616px;width:1px;height:62px"></div><div class="ln" style="left:34px;top:677px;width:5px;height:1px"></div><div class="bx" style="left:42px;top:620px"><b></b></div><div class="ln" style="left:47px;top:631px;width:1px;height:47px"></div><div class="ln" style="left:47px;top:677px;width:5px;height:1px"></div><div class="bx" style="left:55px;top:635px"><b></b></div><div class="ln" style="left:60px;top:646px;width:1px;height:32px"></div><div class="ln" style="left:60px;top:677px;width:5px;height:1px"></div><div class="bx" style="left:68px;top:650px"><b></b></div><div class="ln" style="left:73px;top:661px;width:1px;height:17px"></div><div class="ln" style="left:73px;top:677px;width:5px;height:1px"></div><div class="bx" style="left:3px;top:681px"><b></b></div><div class="ln" style="left:8px;top:692px;width:1px;height:17px"></div><div class="bx" style="left:16px;top:697px"><b></b><s></s></div>
<div style="position:absolute;left:94px;top:143px;width:218px;height:2px;background:#7A4A1C"></div><div style="position:absolute;left:201px;top:143px;width:3px;height:3px;background:#7A4A1C;border-radius:1px"></div><div style="position:absolute;left:310px;top:143px;width:3px;height:3px;background:#7A4A1C;border-radius:1px"></div>
<svg style="position:absolute;left:0;top:0" width="1866" height="709" viewBox="0 0 1866 709"><path d="M231.6 155.5 C230.7 155.6 227.8 155.8 226.0 156.0 C224.2 156.2 222.6 156.1 220.6 156.8 C218.6 157.5 216.3 159.1 213.8 160.2 C211.3 161.3 207.9 162.1 205.4 163.2 C202.9 164.3 200.4 165.7 198.6 167.0 C196.8 168.3 195.4 169.6 194.4 171.2 C193.4 172.8 192.8 174.7 192.5 176.3 C192.2 177.9 192.0 180.0 192.7 181.0 C193.4 182.0 195.1 181.6 196.9 182.2 C198.7 182.8 201.4 184.0 203.7 184.8 C206.0 185.7 208.2 186.5 210.5 187.3 C212.8 188.1 215.5 189.1 217.2 189.8 C218.9 190.5 219.5 191.1 220.6 191.4 C221.7 191.7 222.6 191.1 224.0 191.5 C225.4 191.9 227.1 192.9 229.1 193.6 C231.1 194.3 233.6 195.3 235.8 195.8 C238.1 196.3 240.3 196.6 242.6 196.8 C244.9 197.0 247.2 197.1 249.4 197.0 C251.7 196.9 254.6 196.8 256.1 196.4 C257.6 196.1 257.7 196.1 258.3 194.9 C258.9 193.7 259.4 191.0 259.5 189.0 C259.6 187.0 259.5 185.2 259.1 183.1 C258.8 181.0 258.1 178.4 257.4 176.3 C256.7 174.2 255.8 172.3 254.9 170.4 C254.0 168.5 253.1 166.4 251.9 164.9 C250.7 163.4 249.1 162.3 247.7 161.5 C246.3 160.7 244.9 160.5 243.5 160.1 C242.1 159.7 239.9 159.2 239.2 159.0" fill="none" stroke="#DE161C" stroke-width="2" stroke-linecap="round" stroke-linejoin="round"/></svg>
<svg style="position:absolute;left:0;top:0" width="1866" height="709" viewBox="0 0 1866 709"><path d="M226 155.6 L231.8 155.4" fill="none" stroke="#DE161C" stroke-width="2.4" stroke-linecap="round"/></svg>
</body></html>
